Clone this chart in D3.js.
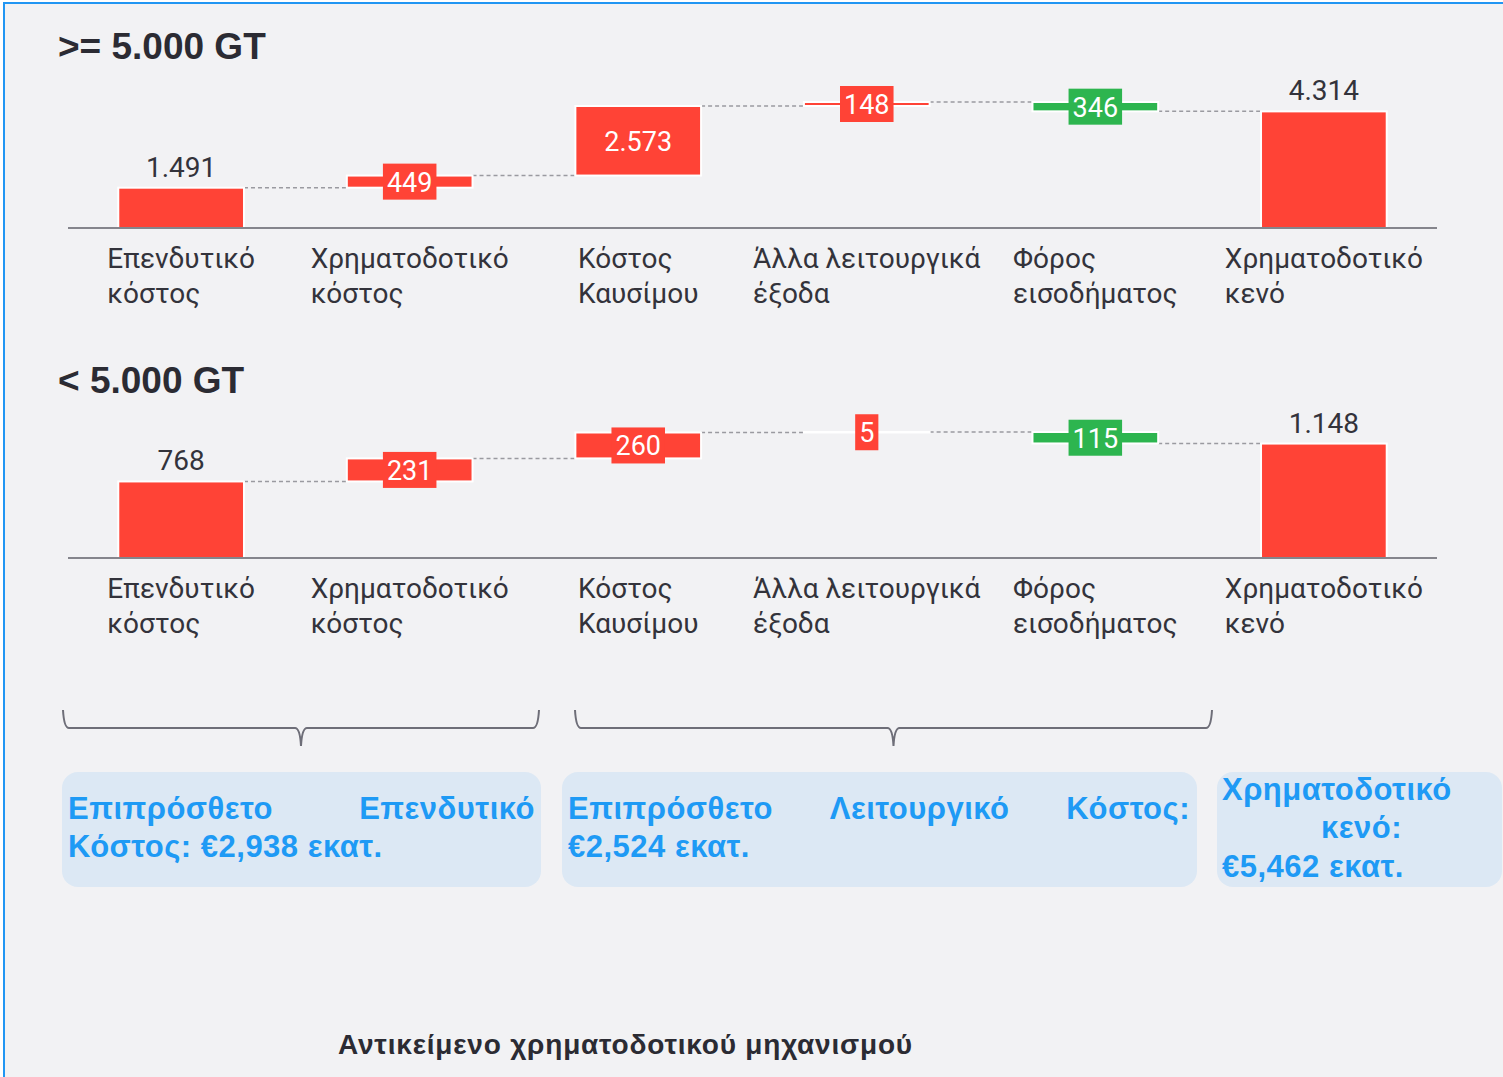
<!DOCTYPE html>
<html>
<head>
  <meta content="text/html;charset=utf-8" http-equiv="Content-Type">
  <title>Waterfall</title>
  <style type="text/css">
    body { margin:0; background:#fff; }
    svg text { font-family: Roboto, "Liberation Sans", sans-serif; }
    .title { font-family: "Liberation Sans", Arial, sans-serif !important; font-weight:bold; font-size:37px; fill:#2b2b33; }
    .cat { font-size:28px; fill:#33333b; }
    .total-lbl { font-size:28px; fill:#33333b; text-anchor:middle; }
    .box-lbl { font-size:27px; fill:#fff; text-anchor:middle; }
    .summary { font-family: "Liberation Sans", Arial, sans-serif !important; font-weight:bold; font-size:31px; letter-spacing:0.5px; fill:#1e9af5; }
    .footer { font-family: "Liberation Sans", Arial, sans-serif !important; font-weight:bold; font-size:28px; letter-spacing:0.8px; fill:#2b2b33; }
  </style>
  <script src="https://cdnjs.cloudflare.com/ajax/libs/d3/7.6.1/d3.min.js"></script>
  <script>

    var categories = [
      ['Επενδυτικό', 'κόστος'],
      ['Χρηματοδοτικό', 'κόστος'],
      ['Κόστος', 'Καυσίμου'],
      ['Άλλα λειτουργικά', 'έξοδα'],
      ['Φόρος', 'εισοδήματος'],
      ['Χρηματοδοτικό', 'κενό']
    ];
    var kinds = ['total', 'delta', 'delta', 'delta', 'delta', 'total'];

    var large_values = [1491, 449, 2573, 148, -346, 4314];
    var small_values = [768, 231, 260, 5, -115, 1148];

    var panel_titles = ['>= 5.000 GT', '< 5.000 GT'];

    var summary_lines = [
      [['Επιπρόσθετο', 'Επενδυτικό'], ['Κόστος: €2,938 εκατ.']],
      [['Επιπρόσθετο', 'Λειτουργικό', 'Κόστος:'], ['€2,524 εκατ.']],
      [['Χρηματοδοτικό'], ['κενό:'], ['€5,462 εκατ.']]
    ];
    var footer_text = 'Αντικείμενο χρηματοδοτικού μηχανισμού';

    var red = '#ff4336', green = '#2db54f';
    var el_format = d3.formatLocale({decimal: ',', thousands: '.', grouping: [3], currency: ['€', '']}).format(',d');

    function waterfall(svg, values, title, baseline, title_y) {
      var x = d3.scaleBand().domain(d3.range(values.length))
            .range([68, 1437]).paddingInner(0.45).paddingOuter(0.22);

      // running start/end of each step
      var run = 0;
      var steps = values.map(function(v, i) {
        var s;
        if (kinds[i] == 'total') { s = {i: i, v: v, y0: 0, y1: v}; run = v; }
        else { s = {i: i, v: v, y0: run, y1: run + v}; run += v; }
        return s;
      });
      var top = d3.max(steps, function(s) { return Math.max(s.y0, s.y1); });
      var y = d3.scaleLinear().domain([0, top]).range([baseline, baseline - 126]);

      var g = svg.append('g');

      g.append('text').attr('class', 'title').attr('x', 58).attr('y', title_y).text(title);

      // dashed connectors
      g.selectAll('line.conn').data(steps.slice(0, -1)).enter().append('line')
        .attr('x1', function(s) { return x(s.i) + x.bandwidth(); })
        .attr('x2', function(s) { return x(s.i + 1); })
        .attr('y1', function(s) { return y(s.y1); })
        .attr('y2', function(s) { return y(s.y1); })
        .attr('stroke', '#9a9aa0').attr('stroke-width', 1.5).attr('stroke-dasharray', '4,3');

      g.selectAll('rect.bar').data(steps).enter().append('rect')
        .attr('x', function(s) { return x(s.i); })
        .attr('width', x.bandwidth())
        .attr('y', function(s) { return y(Math.max(s.y0, s.y1)); })
        .attr('height', function(s) { return Math.abs(y(s.y0) - y(s.y1)); })
        .attr('fill', function(s) { return s.v < 0 ? green : red; })
        .attr('stroke', '#fff').attr('stroke-width', 2);

      // axis line
      g.append('line').attr('x1', 68).attr('x2', 1437).attr('y1', baseline).attr('y2', baseline)
        .attr('stroke', '#85858c').attr('stroke-width', 2);

      // labels
      steps.forEach(function(s) {
        var cx = x(s.i) + x.bandwidth() / 2;
        var ytop = y(Math.max(s.y0, s.y1)), ybot = y(Math.min(s.y0, s.y1));
        var label = el_format(Math.abs(s.v));
        if (kinds[s.i] == 'total') {
          g.append('text').attr('class', 'total-lbl').attr('x', cx).attr('y', ytop - 11).text(label);
        } else if (ybot - ytop > 40) {
          g.append('text').attr('class', 'box-lbl').attr('x', cx).attr('y', (ytop + ybot) / 2 + 10).text(label);
        } else {
          var cy = (ytop + ybot) / 2;
          var t = g.append('text').attr('class', 'box-lbl').attr('x', cx).attr('y', cy + 10).text(label);
          var w = t.node().getComputedTextLength() + 8;
          g.insert('rect', function() { return t.node(); })
            .attr('x', cx - w / 2).attr('y', cy - 18).attr('width', w).attr('height', 36)
            .attr('fill', s.v < 0 ? green : red);
        }
      });

      // category labels: block centred on bar, lines left aligned
      categories.forEach(function(lines, i) {
        var cx = x(i) + x.bandwidth() / 2;
        var t = g.append('text').attr('class', 'cat');
        lines.forEach(function(l, k) {
          t.append('tspan').attr('x', 0).attr('y', baseline + 40 + k * 35).text(l);
        });
        var w = t.node().getBBox().width;
        t.selectAll('tspan').attr('x', cx - w / 2);
      });
    }

    function brace(svg, x0, x1) {
      var xm = (x0 + x1) / 2, yt = 710, yh = 728, yp = 746;
      var p = d3.path();
      p.moveTo(x0, yt);
      p.quadraticCurveTo(x0 + 1, yh, x0 + 6, yh);
      p.lineTo(xm - 6, yh);
      p.quadraticCurveTo(xm - 1, yh, xm, yp);
      p.quadraticCurveTo(xm + 1, yh, xm + 6, yh);
      p.lineTo(x1 - 6, yh);
      p.quadraticCurveTo(x1 - 1, yh, x1, yt);
      svg.append('path').attr('d', p.toString()).attr('fill', 'none')
        .attr('stroke', '#6e6e78').attr('stroke-width', 2);
    }

    function justify_line(svg, words, x0, width, y, justify) {
      var ts = words.map(function(w) {
        return svg.append('text').attr('class', 'summary').attr('y', y).text(w);
      });
      var widths = ts.map(function(t) { return t.node().getComputedTextLength(); });
      var gap = 8;
      if (justify && words.length > 1) gap = (width - d3.sum(widths)) / (words.length - 1);
      var cx = x0;
      ts.forEach(function(t, i) { t.attr('x', cx); cx += widths[i] + gap; });
    }

    function main() {
      var svg = d3.select('#chart').attr('width', 1503).attr('height', 1077);

      svg.append('rect').attr('width', 1503).attr('height', 1077).attr('fill', '#fff');
      svg.append('rect').attr('x', 4).attr('y', 3).attr('width', 1600).attr('height', 1200)
        .attr('fill', '#f2f2f4').attr('stroke', '#2196f3').attr('stroke-width', 2);

      waterfall(svg, large_values, panel_titles[0], 228, 59);
      waterfall(svg, small_values, panel_titles[1], 558, 393);

      brace(svg, 63, 539);
      brace(svg, 575, 1212);

      var boxes = [[62, 541], [562, 1197], [1217, 1502]];
      boxes.forEach(function(b) {
        svg.append('rect').attr('x', b[0]).attr('y', 772).attr('width', b[1] - b[0]).attr('height', 115)
          .attr('rx', 16).attr('fill', '#dce8f4');
      });

      justify_line(svg, summary_lines[0][0], 68, 467, 819, true);
      justify_line(svg, summary_lines[0][1], 68, 467, 857, false);
      justify_line(svg, summary_lines[1][0], 568, 622, 819, true);
      justify_line(svg, summary_lines[1][1], 568, 622, 857, false);
      justify_line(svg, summary_lines[2][0], 1222, 230, 800, false);
      justify_line(svg, summary_lines[2][1], 1321, 80, 838, false);
      justify_line(svg, summary_lines[2][2], 1222, 230, 877, false);

      svg.append('text').attr('class', 'footer').attr('x', 338).attr('y', 1054).text(footer_text);
    }

  </script>
</head>
<body onload='main()'>

  <svg id="chart"></svg>

</body>
</html>
